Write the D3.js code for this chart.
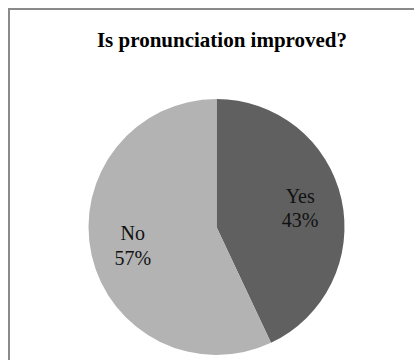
<!DOCTYPE html>
<html>
<head>
<meta charset="utf-8">
<script src="https://cdn.jsdelivr.net/npm/d3@7/dist/d3.min.js"></script>
<style>
  html, body { margin: 0; padding: 0; background: #ffffff; }
  svg { display: block; }
</style>
</head>
<body>
<script>
// Survey answers and their shares (percent)
const categories = ["Yes", "No"];
const values = [43, 57];
const sliceColors = ["#606060", "#b3b3b3"];
const chartTitle = "Is pronunciation improved?";

const width = 414, height = 360;
const cx = 216.5, cy = 227, radius = 128;

const svg = d3.select("body").append("svg")
  .attr("width", width)
  .attr("height", height);

// Chart area frame (continues past the right and bottom edges)
svg.append("rect")
  .attr("x", 9).attr("y", 9)
  .attr("width", 430).attr("height", 380)
  .attr("fill", "none")
  .attr("stroke", "#8a8a8a")
  .attr("stroke-width", 2);

// Title
svg.append("text")
  .attr("x", 222).attr("y", 46.5)
  .attr("text-anchor", "middle")
  .attr("font-family", "'Liberation Serif', 'Times New Roman', serif")
  .attr("font-weight", "bold")
  .attr("font-size", 21)
  .attr("fill", "#000")
  .text(chartTitle);

const data = categories.map((c, i) => ({ label: c, value: values[i], color: sliceColors[i] }));

const pie = d3.pie().value(d => d.value).sort(null);
const arcs = pie(data);

const arc = d3.arc().innerRadius(0).outerRadius(radius);
const labelArc = d3.arc().innerRadius(radius * 0.67).outerRadius(radius * 0.67);

const g = svg.append("g").attr("transform", `translate(${cx},${cy})`);

g.selectAll("path.slice")
  .data(arcs)
  .join("path")
  .attr("class", "slice")
  .attr("d", arc)
  .attr("fill", d => d.data.color);

// Category name and percentage inside each slice
const labels = g.selectAll("text.slice-label")
  .data(arcs)
  .join("text")
  .attr("class", "slice-label")
  .attr("transform", d => `translate(${labelArc.centroid(d)})`)
  .attr("text-anchor", "middle")
  .attr("font-family", "'Liberation Serif', 'Times New Roman', serif")
  .attr("font-size", 20)
  .attr("fill", "#111");

labels.append("tspan")
  .attr("x", 0).attr("dy", -5.5)
  .text(d => d.data.label);

labels.append("tspan")
  .attr("x", 0).attr("dy", 24.6)
  .text(d => Math.round(d.value / d3.sum(values) * 100) + "%");
</script>
</body>
</html>
